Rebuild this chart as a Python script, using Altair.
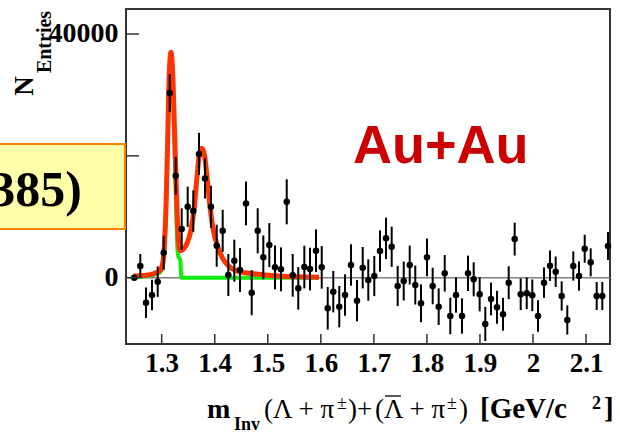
import altair as alt
import pandas as pd

# Invariant-mass bins (GeV/c^2), entries and statistical errors
mass = [1.2483, 1.2597, 1.2704, 1.2817, 1.2925, 1.3038, 1.3151, 1.3264, 1.3377, 1.3490,
        1.3596, 1.3703, 1.3816, 1.3929, 1.4037, 1.4150, 1.4256, 1.4369, 1.4476, 1.4589,
        1.4697, 1.4810, 1.4916, 1.5029, 1.5136, 1.5249, 1.5357, 1.5470, 1.5575, 1.5689,
        1.5796, 1.5909, 1.6017, 1.6130, 1.6235, 1.6348, 1.6456, 1.6569, 1.6682, 1.6790,
        1.6895, 1.7008, 1.7116, 1.7229, 1.7336, 1.7449, 1.7563, 1.7676, 1.7781, 1.7889,
        1.8002, 1.8109, 1.8222, 1.8336, 1.8441, 1.8549, 1.8662, 1.8775, 1.8882, 1.8995,
        1.9101, 1.9209, 1.9322, 1.9435, 1.9542, 1.9655, 1.9768, 1.9882, 1.9987, 2.0095,
        2.0208, 2.0321, 2.0428, 2.0541, 2.0647, 2.0760, 2.0868, 2.0975, 2.1088, 2.1201,
        2.1307, 2.1414]
counts = [0, 1920, -4100, -2840, -650, 4100, 30320, 16720, 7980, 11640,
          10930, 20320, 16290, 11640, 5245, 7700, 440, 2790, 1260, 12190,
          -2460, 7700, 3340, 5360, 1700, 1380, 12460, 390, -1740, 1750,
          1420, 4430, 1700, -5020, -2290, -4750, -2840, 2080, -3770, 1640,
          -380, 280, 4380, 6460, 5080, -1360, -540, 2080, -1200, -4200,
          3340, -1360, -4750, 720, -6280, -2840, -6280, 720, -260, -2720,
          -7590, -3490, -4850, -6000, -820, 6340, -2720, -2560, -2890, -6280,
          -820, 1970, 980, -3000, -6930, 1920, 280, 4750, 2520, -3000,
          -3000, 5200]
errors = [0, 1970, 2500, 2500, 2500, 2800, 3100, 3100, 3400, 3300,
          3400, 3450, 3300, 3450, 3450, 3450, 3450, 3450, 3600, 3600,
          3700, 3700, 3600, 3600, 3600, 3600, 3700, 3500, 3500, 3500,
          3500, 3500, 3500, 3500, 3400, 3400, 3400, 3400, 3400, 3400,
          3400, 3300, 3400, 3400, 3300, 3300, 3200, 3200, 3200, 3100,
          3100, 3000, 3000, 3000, 3000, 2900, 2900, 2900, 2800, 2800,
          2800, 2700, 2700, 2700, 2700, 2700, 2600, 2600, 2600, 2600,
          2500, 2500, 2500, 2400, 2400, 2400, 2400, 2300, 2300, 2300,
          2300, 2300]

# Total fit (Xi peak + Sigma(1385) + background), sampled along the curve
fit_mass = [1.2465, 1.2704, 1.2893, 1.2974, 1.3019, 1.3049, 1.3081, 1.3113, 1.3143, 1.3175,
            1.3207, 1.3238, 1.3270, 1.3302, 1.3332, 1.3364, 1.3426, 1.3490, 1.3552, 1.3615,
            1.3660, 1.3709, 1.3760, 1.3811, 1.3860, 1.3911, 1.3973, 1.4056, 1.4150, 1.4275,
            1.4463, 1.4665, 1.5198, 1.5966]
fit_total = [280, 390, 820, 1260, 2360, 5090, 11650, 22600, 33540, 37000,
             33540, 25340, 16030, 8370, 4820, 4430, 4820, 5910, 7830, 11650,
             16030, 20130, 21230, 19860, 16030, 11650, 7830, 5090, 3180, 1800,
             985, 720, 280, 65]

# Narrow-peak component of the fit
comp_mass = [1.2453, 1.2704, 1.2893, 1.2974, 1.3019, 1.3049, 1.3081, 1.3113, 1.3143, 1.3175,
             1.3207, 1.3238, 1.3270, 1.3290, 1.3310, 1.3332, 1.3350, 1.3362, 1.3372, 1.3450,
             1.5966]
comp_fit = [50, 250, 600, 900, 1700, 4400, 11000, 22000, 33000, 36500,
            32500, 23000, 12500, 6000, 3600, 3200, 2900, 1000, 0, 0,
            0]

x_ticks = [1.3, 1.4, 1.5, 1.6, 1.7, 1.8, 1.9, 2.0, 2.1]
y_ticks = [0, 20000, 40000]

W, H = 484, 335
PAD_L, PAD_T = 126, 9
SERIF = "Liberation Serif"

xs = alt.Scale(domain=[1.2327, 2.1452], nice=False, zero=False)
ys = alt.Scale(domain=[-10880, 44100], nice=False, zero=False)

pts = pd.DataFrame({"m": mass, "n": counts, "e": errors})
pts["lo"] = pts["n"] - pts["e"]
pts["hi"] = pts["n"] + pts["e"]

x_axis = alt.Axis(values=x_ticks, format=".1~f", ticks=False, domain=False, grid=False,
                  labelFont=SERIF, labelFontWeight="bold", labelFontSize=27,
                  labelColor="black", labelPadding=6, labelFlush=False,
                  labelOverlap=False, title=None)
y_axis = alt.Axis(values=y_ticks, format="d", ticks=False, domain=False, grid=False,
                  labelFont=SERIF, labelFontWeight="bold", labelFontSize=28,
                  labelColor="black", labelPadding=8, labelOverlap=False, title=None)


def X(field):
    return alt.X(field, scale=xs, axis=x_axis)


def Y(field):
    return alt.Y(field, scale=ys, axis=y_axis)


zero_line = alt.Chart(pd.DataFrame({"z": [0]})).mark_rule(
    color="#808080", strokeWidth=1.5).encode(y=Y("z:Q"))

x_tick_marks = alt.Chart(pd.DataFrame({"t": x_ticks})).mark_rule(
    color="#333333", strokeWidth=1.5).encode(
    x=X("t:Q"), y=alt.value(H), y2=alt.value(H - 10))
y_tick_marks = alt.Chart(pd.DataFrame({"t": y_ticks})).mark_rule(
    color="#333333", strokeWidth=1.5).encode(
    y=Y("t:Q"), x=alt.value(0), x2=alt.value(13))

comp_line = alt.Chart(pd.DataFrame({"m": comp_mass, "v": comp_fit})).mark_line(
    color="#11ee11", strokeWidth=4, interpolate="monotone").encode(x=X("m:Q"), y=Y("v:Q"))
total_line = alt.Chart(pd.DataFrame({"m": fit_mass, "v": fit_total})).mark_line(
    color="#ff3300", strokeWidth=5, interpolate="monotone").encode(x=X("m:Q"), y=Y("v:Q"))

err_bars = alt.Chart(pts).mark_rule(color="black", strokeWidth=2).encode(
    x=X("m:Q"), y=Y("lo:Q"), y2="hi:Q")
markers = alt.Chart(pts).mark_circle(size=42, color="black", opacity=1).encode(
    x=X("m:Q"), y=Y("n:Q"))


def label(text, px, py, size, weight="bold", font=SERIF, color="black",
          align="left", baseline="alphabetic", angle=0):
    """Text placed in page pixels (converted to plot-area coordinates)."""
    kw = dict(text=text, font=font, fontSize=size, fontWeight=weight, color=color,
              align=align, baseline=baseline)
    if angle:
        kw["angle"] = angle
    return alt.Chart(pd.DataFrame({"k": [0]})).mark_text(**kw).encode(
        x=alt.value(px - PAD_L), y=alt.value(py - PAD_T))


# Highlight box with the resonance name, running off the left edge
name_box = alt.Chart(pd.DataFrame({"k": [0]})).mark_rect(
    fill="#ffffaa", stroke="#ff8000", strokeWidth=2).encode(
    x=alt.value(-20 - PAD_L), x2=alt.value(125 - PAD_L),
    y=alt.value(144 - PAD_T), y2=alt.value(229 - PAD_T))
name_text = label("Σ(1385)", 82, 206, 50, align="right")

system_text = label("Au+Au", 353, 163, 54, font="Liberation Sans", color="#cc0000")

# y-axis title: N with subscript "Entries", rotated
y_title_n = label("N", 33, 86, 27, align="center", angle=270)
y_title_sub = label("Entries", 51, 42, 20, align="center", angle=270)

# x-axis title pieces
overline = alt.Chart(pd.DataFrame({"k": [0]})).mark_rule(color="black", strokeWidth=1.3).encode(
    x=alt.value(385 - PAD_L), x2=alt.value(401 - PAD_L),
    y=alt.value(396 - PAD_T))
x_title = [
    label("m", 207, 418, 28),
    label("Inv", 234, 430, 18),
    label("(Λ + π", 264, 418, 27, weight="normal"),
    label("±", 337, 409, 18, weight="normal"),
    label(")+", 348, 418, 27, weight="normal"),
    label("(Λ + π", 375, 418, 27, weight="normal"),
    label("±", 447, 409, 18, weight="normal"),
    label(")", 459, 418, 27, weight="normal"),
    label("[GeV/c", 480, 418, 29),
    label("2", 592, 409, 18),
    label("]", 604, 418, 29),
]

chart = alt.layer(
    zero_line, comp_line, total_line, err_bars, markers,
    x_tick_marks, y_tick_marks,
    name_box, name_text, system_text, y_title_n, y_title_sub, overline, *x_title,
).properties(
    width=W, height=H,
    autosize=alt.AutoSizeParams(type="none"),
    padding={"left": PAD_L, "top": PAD_T, "right": 620 - PAD_L - W, "bottom": 441 - PAD_T - H},
    background="white",
).configure_view(stroke="#333333", strokeWidth=2)

chart.save("out.html", embed_options={"renderer": "svg", "actions": False})
